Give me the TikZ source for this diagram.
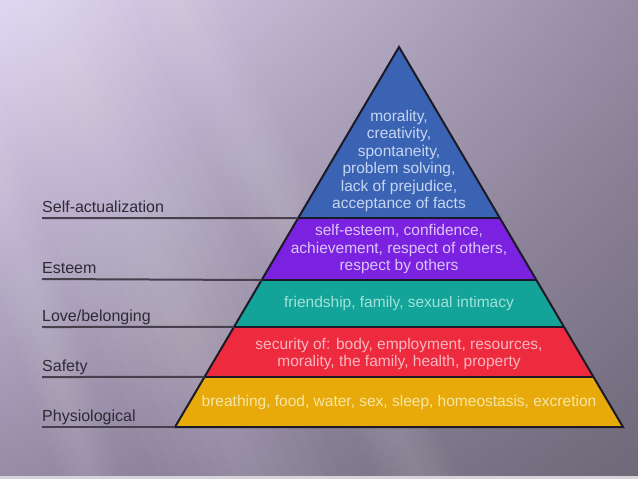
\documentclass[tikz,border=0pt]{standalone}
\usepackage{fontspec}
\setmainfont{Liberation Sans}
\usetikzlibrary{calc,shadings}
\definecolor{bgTL}{HTML}{E0D4F2}
\definecolor{bgTR}{HTML}{978BA3}
\definecolor{bgBL}{HTML}{968CA6}
\definecolor{bgBR}{HTML}{6E6878}
\definecolor{labc}{HTML}{2E2A36}
\definecolor{linec}{HTML}{46404E}
\definecolor{edgec}{HTML}{1C1A26}
\definecolor{blueF}{HTML}{3B63B3}
\definecolor{purpleF}{HTML}{7A22E0}
\definecolor{tealF}{HTML}{14A398}
\definecolor{redF}{HTML}{EE2A3E}
\definecolor{yellowF}{HTML}{E8AA0A}
\definecolor{blueT}{HTML}{C6D6F2}
\definecolor{purpleT}{HTML}{DCC4FA}
\definecolor{tealT}{HTML}{9FE3DA}
\definecolor{redT}{HTML}{F9B8C0}
\definecolor{yellowT}{HTML}{F6E6A6}
\definecolor{bottomc}{HTML}{D6D2DA}
\begin{document}
\begin{tikzpicture}[x=1pt,y=-1pt,
  lvl/.style={font=\fontsize{15.5}{17.5}\selectfont, align=center, inner sep=0pt},
  lab/.style={font=\fontsize{16}{18}\selectfont, text=labc, anchor=base west, inner sep=0pt},
  guide/.style={draw=linec, line width=2pt},
  sep/.style={draw=edgec, line width=1.6pt},
  edge/.style={draw=edgec, line width=2pt, line join=miter},
  streak/.style={fill=white, opacity=0.025}
]
\useasboundingbox (0,0) rectangle (638,479);
% background
\shade[upper left=bgTL, upper right=bgTR, lower left=bgBL, lower right=bgBR] (0,0) rectangle (638,479);
\foreach \w in {15,30,...,90}{
  \fill[streak] (40-\w,0) -- (40+\w,0) -- (250+\w,479) -- (250-\w,479) -- cycle;
}
\foreach \w in {8,16,...,40}{
  \fill[streak] (175-\w,0) -- (175+\w,0) -- (420+\w,479) -- (420-\w,479) -- cycle;
}
\foreach \w in {6,12,...,30}{
  \fill[streak] (-60-\w,0) -- (-60+\w,0) -- (90+\w,479) -- (90-\w,479) -- cycle;
}
\fill[bottomc] (0,476) rectangle (638,479);
% pyramid geometry
\coordinate (A) at (399,47);
\coordinate (BL) at (175,427);
\coordinate (BR) at (623,427);
\coordinate (l1) at ($(A)!0.45!(BL)$);   \coordinate (r1) at ($(A)!0.45!(BR)$);
\coordinate (l2) at ($(A)!0.6132!(BL)$); \coordinate (r2) at ($(A)!0.6132!(BR)$);
\coordinate (l3) at ($(A)!0.7368!(BL)$); \coordinate (r3) at ($(A)!0.7368!(BR)$);
\coordinate (l4) at ($(A)!0.8684!(BL)$); \coordinate (r4) at ($(A)!0.8684!(BR)$);
% layers
\fill[blueF] (A) -- (l1) -- (r1) -- cycle;
\fill[purpleF] (l1) -- (l2) -- (r2) -- (r1) -- cycle;
\fill[tealF] (l2) -- (l3) -- (r3) -- (r2) -- cycle;
\fill[redF] (l3) -- (l4) -- (r4) -- (r3) -- cycle;
\fill[yellowF] (l4) -- (BL) -- (BR) -- (r4) -- cycle;
\draw[sep] (l1) -- (r1);
\draw[sep] (l2) -- (r2);
\draw[sep] (l3) -- (r3);
\draw[sep] (l4) -- (r4);
\draw[edge] (A) -- (BL) -- (BR) -- cycle;
% layer texts
\node[lvl, text=blueT] (t1) at (399,161) {morality,\\creativity,\\spontaneity,\\problem solving,\\lack of prejudice,\\acceptance of facts};
\node[lvl, text=purpleT] (t2) at (399,249) {self-esteem, confidence,\\achievement, respect of others,\\respect by others};
\node[lvl, text=tealT] (t3) at (399,303) {friendship, family, sexual intimacy};
\node[lvl, text=redT] (t4) at (399,354) {security of: body, employment, resources,\\morality, the family, health, property};
\node[lvl, text=yellowT] (t5) at (399,402) {breathing, food, water, sex, sleep, homeostasis, excretion};
% labels and guide lines
\node[lab] (s1) at (42,212) {Self-actualization};
\node[lab] (s2) at (42,273) {Esteem};
\node[lab] (s3) at (42,321) {Love/belonging};
\node[lab] (s4) at (42,371) {Safety};
\node[lab] (s5) at (42,421) {Physiological};
\coordinate (g1) at (42,218);
\coordinate (g2) at (42,279);
\coordinate (g3) at (42,327);
\coordinate (g4) at (42,377);
\coordinate (g5) at (42,427);
\draw[guide] (g1) -- (l1);
\draw[guide] (g2) -- (l2);
\draw[guide] (g3) -- (l3);
\draw[guide] (g4) -- (l4);
\draw[guide] (g5) -- (BL);
\end{tikzpicture}
\end{document}
